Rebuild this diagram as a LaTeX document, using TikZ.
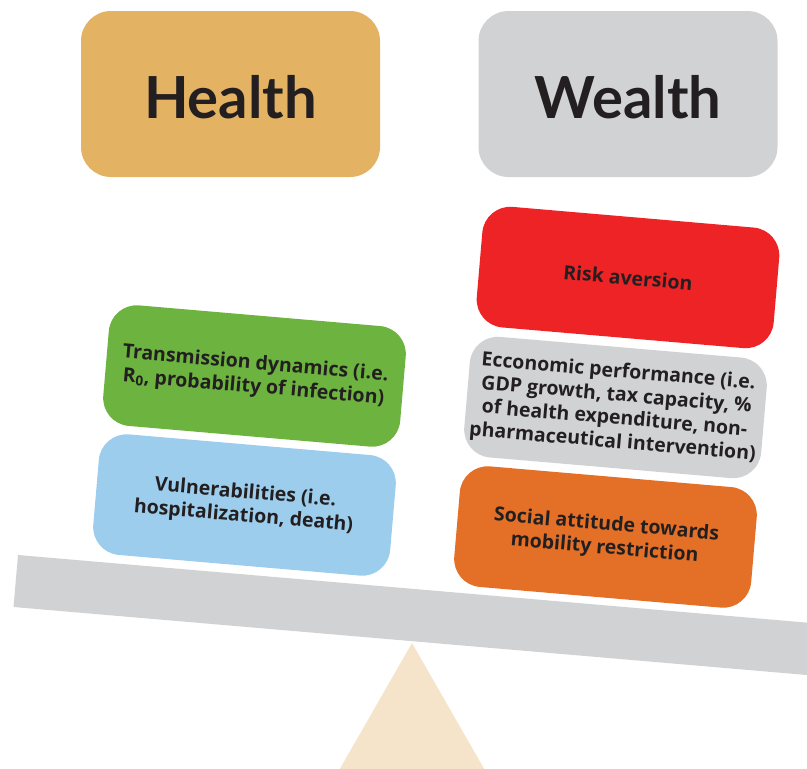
\documentclass[tikz,border=0pt]{standalone}
\usepackage{fontspec}
\setmainfont{Open Sans}
\newfontfamily\titlefont{Lato}[Ligatures=NoCommon]
\definecolor{ink}{HTML}{231F20}
\definecolor{healthc}{HTML}{E3B263}
\definecolor{greyc}{HTML}{D1D2D4}
\definecolor{greenc}{HTML}{6DB33F}
\definecolor{bluec}{HTML}{9DCDED}
\definecolor{redc}{HTML}{EE2326}
\definecolor{orangec}{HTML}{E46F26}
\definecolor{standc}{HTML}{F5E4C9}
\begin{document}
\begin{tikzpicture}[x=1pt,y=-1pt,
  titlebox/.style={rectangle, rounded corners=30pt, minimum width=299pt,
    minimum height=166pt, inner sep=0pt, text=ink, text height=48pt, text depth=0pt,
    font=\titlefont\fontsize{58}{60}\selectfont\bfseries},
  tiltbox/.style={rectangle, rounded corners=28pt, minimum width=298pt,
    minimum height=121pt, inner sep=0pt, rotate=-4.9, align=center, text=ink,
    font=\fontsize{19.5}{23.5}\selectfont\bfseries}]
\useasboundingbox (0,0) rectangle (807,769);
\clip (0,0) rectangle (807,769);
% stand
\fill[standc] (412,643) -- (330,786) -- (494,786) -- cycle;
% beam
\fill[greyc] (18,555) -- (13.5,607) -- (830,677) -- (830,624.6) -- cycle;
% titles
\node[titlebox, fill=healthc] (health) at (230.5,94) {Health};
\node[titlebox, fill=greyc] (wealth) at (628,94) {Wealth};
% health side
\node[tiltbox, fill=greenc] (trans) at (254.5,376)
  {Transmission dynamics (i.e.\\R\textsubscript{0}, probability of infection)};
\node[tiltbox, fill=bluec] (vuln) at (244.5,505)
  {Vulnerabilities (i.e.\\hospitalization, death)};
% wealth side
\node[tiltbox, fill=redc] (risk) at (628,277.5) {Risk aversion};
\node[tiltbox, fill=greyc] (econ) at (615.5,407.5)
  {Ecconomic performance (i.e.\\GDP growth, tax capacity, \%\\of health expenditure, non-\\pharmaceutical intervention)};
\node[tiltbox, fill=orangec] (social) at (605.5,537)
  {Social attitude towards\\mobility restriction};
\end{tikzpicture}
\end{document}
